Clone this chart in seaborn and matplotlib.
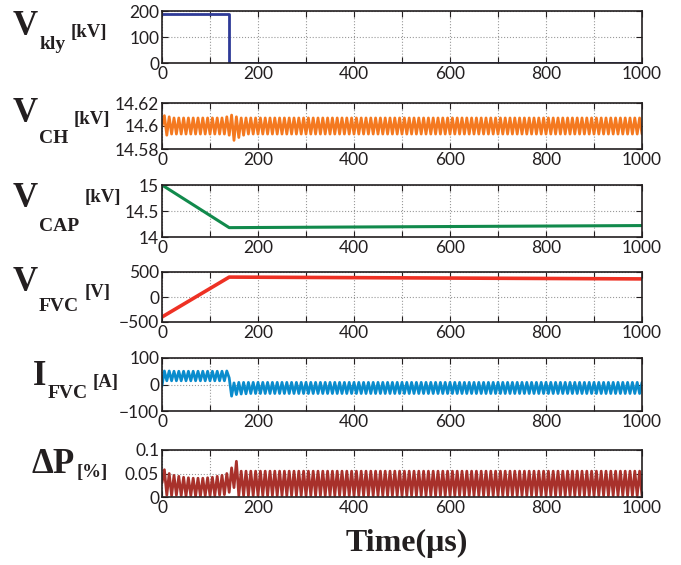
import numpy as np
import pandas as pd
import matplotlib
matplotlib.use('Agg')
import matplotlib.pyplot as plt
import seaborn as sns

# ---- data ----
# klystron voltage: step down at ~140 us
vkly_t = [0, 140, 140, 1000]
vkly = [190, 190, 0, 0]

# capacitor voltage
vcap_t = [0, 140, 1000]
vcap = [15.0, 14.18, 14.22]

# FVC voltage
vfvc_t = [0, 140, 1000]
vfvc = [-400, 398, 362]

t_ripple = np.arange(0, 1001, 5)

vch = [
    14.600, 14.609, 14.592, 14.608, 14.593, 14.607, 14.593, 14.607, 14.593, 14.607, 14.593, 14.607, 14.593, 14.607, 14.593, 14.607, 14.593, 14.607, 14.593, 14.607,
    14.593, 14.607, 14.593, 14.607, 14.593, 14.607, 14.593, 14.608, 14.592, 14.6095, 14.5875, 14.608, 14.590, 14.607, 14.592, 14.607, 14.593, 14.607, 14.593, 14.607,
    14.593, 14.607, 14.593, 14.607, 14.593, 14.607, 14.593, 14.607, 14.593, 14.607, 14.593, 14.607, 14.593, 14.607, 14.593, 14.607, 14.593, 14.607, 14.593, 14.607,
    14.593, 14.607, 14.593, 14.607, 14.593, 14.607, 14.593, 14.607, 14.593, 14.607, 14.593, 14.607, 14.593, 14.607, 14.593, 14.607, 14.593, 14.607, 14.593, 14.607,
    14.593, 14.607, 14.593, 14.607, 14.593, 14.607, 14.593, 14.607, 14.593, 14.607, 14.593, 14.607, 14.593, 14.607, 14.593, 14.607, 14.593, 14.607, 14.593, 14.607,
    14.593, 14.607, 14.593, 14.607, 14.593, 14.607, 14.593, 14.607, 14.593, 14.607, 14.593, 14.607, 14.593, 14.607, 14.593, 14.607, 14.593, 14.607, 14.593, 14.607,
    14.593, 14.607, 14.593, 14.607, 14.593, 14.607, 14.593, 14.607, 14.593, 14.607, 14.593, 14.607, 14.593, 14.607, 14.593, 14.607, 14.593, 14.607, 14.593, 14.607,
    14.593, 14.607, 14.593, 14.607, 14.593, 14.607, 14.593, 14.607, 14.593, 14.607, 14.593, 14.607, 14.593, 14.607, 14.593, 14.607, 14.593, 14.607, 14.593, 14.607,
    14.593, 14.607, 14.593, 14.607, 14.593, 14.607, 14.593, 14.607, 14.593, 14.607, 14.593, 14.607, 14.593, 14.607, 14.593, 14.607, 14.593, 14.607, 14.593, 14.607,
    14.593, 14.607, 14.593, 14.607, 14.593, 14.607, 14.593, 14.607, 14.593, 14.607, 14.593, 14.607, 14.593, 14.607, 14.593, 14.607, 14.593, 14.607, 14.593, 14.607,
    14.593,
]

ifvc = [
    -5, 51, 14, 51, 14, 50, 14, 50, 14, 50, 14, 50, 14, 50, 14, 50, 14, 50, 14, 50,
    14, 50, 14, 50, 14, 50, 14, 51, 25, -44, 6, -38, 8, -36, 8, -35, 8, -34, 8, -34,
    8, -34, 8, -34, 8, -34, 8, -34, 8, -34, 8, -34, 8, -34, 8, -34, 8, -34, 8, -34,
    8, -34, 8, -34, 8, -34, 8, -34, 8, -34, 8, -34, 8, -34, 8, -34, 8, -34, 8, -34,
    8, -34, 8, -34, 8, -34, 8, -34, 8, -34, 8, -34, 8, -34, 8, -34, 8, -34, 8, -34,
    8, -34, 8, -34, 8, -34, 8, -34, 8, -34, 8, -34, 8, -34, 8, -34, 8, -34, 8, -34,
    8, -34, 8, -34, 8, -34, 8, -34, 8, -34, 8, -34, 8, -34, 8, -34, 8, -34, 8, -34,
    8, -34, 8, -34, 8, -34, 8, -34, 8, -34, 8, -34, 8, -34, 8, -34, 8, -34, 8, -34,
    8, -34, 8, -34, 8, -34, 8, -34, 8, -34, 8, -34, 8, -34, 8, -34, 8, -34, 8, -34,
    8, -34, 8, -34, 8, -34, 8, -34, 8, -34, 8, -34, 8, -34, 8, -34, 8, -34, 8, -34,
    8,
]

dp = [
    0.030, 0.058, 0.004, 0.050, 0.003, 0.046, 0.004, 0.044, 0.003, 0.042, 0.002, 0.041, 0.003, 0.040, 0.002, 0.040, 0.002, 0.040, 0.003, 0.041,
    0.003, 0.042, 0.003, 0.044, 0.004, 0.046, 0.005, 0.050, 0.010, 0.062, 0.020, 0.076, 0.003, 0.055, 0.003, 0.055, 0.003, 0.055, 0.003, 0.055,
    0.003, 0.055, 0.003, 0.055, 0.003, 0.055, 0.003, 0.055, 0.003, 0.055, 0.003, 0.055, 0.003, 0.055, 0.003, 0.055, 0.003, 0.055, 0.003, 0.055,
    0.003, 0.055, 0.003, 0.055, 0.003, 0.055, 0.003, 0.055, 0.003, 0.055, 0.003, 0.055, 0.003, 0.055, 0.003, 0.055, 0.003, 0.055, 0.003, 0.055,
    0.003, 0.055, 0.003, 0.055, 0.003, 0.055, 0.003, 0.055, 0.003, 0.055, 0.003, 0.055, 0.003, 0.055, 0.003, 0.055, 0.003, 0.055, 0.003, 0.055,
    0.003, 0.055, 0.003, 0.055, 0.003, 0.055, 0.003, 0.055, 0.003, 0.055, 0.003, 0.055, 0.003, 0.055, 0.003, 0.055, 0.003, 0.055, 0.003, 0.055,
    0.003, 0.055, 0.003, 0.055, 0.003, 0.055, 0.003, 0.055, 0.003, 0.055, 0.003, 0.055, 0.003, 0.055, 0.003, 0.055, 0.003, 0.055, 0.003, 0.055,
    0.003, 0.055, 0.003, 0.055, 0.003, 0.055, 0.003, 0.055, 0.003, 0.055, 0.003, 0.055, 0.003, 0.055, 0.003, 0.055, 0.003, 0.055, 0.003, 0.055,
    0.003, 0.055, 0.003, 0.055, 0.003, 0.055, 0.003, 0.055, 0.003, 0.055, 0.003, 0.055, 0.003, 0.055, 0.003, 0.055, 0.003, 0.055, 0.003, 0.055,
    0.003, 0.055, 0.003, 0.055, 0.003, 0.055, 0.003, 0.055, 0.003, 0.055, 0.003, 0.055, 0.003, 0.055, 0.003, 0.055, 0.003, 0.055, 0.003, 0.055,
    0.003,
]

x_ticks = [0, 100, 200, 300, 400, 500, 600, 700, 800, 900, 1000]
x_tick_labels = ['0', '', '200', '', '400', '', '600', '', '800', '', '1000']

# per-panel y axis settings
y_lims = [(0, 200), (14.58, 14.62), (14, 15), (-500, 500), (-100, 100), (0, 0.1)]
y_ticks = [[0, 100, 200], [14.58, 14.6, 14.62], [14, 14.5, 15],
           [-500, 0, 500], [-100, 0, 100], [0, 0.05, 0.1]]
y_tick_labels = [['0', '100', '200'], ['14.58', '14.6', '14.62'], ['14', '14.5', '15'],
                 ['\u2212500', '0', '500'], ['\u2212100', '0', '100'], ['0', '0.05', '0.1']]

label_main = ['V', 'V', 'V', 'V', 'I', '\u0394P']
label_sub = ['kly', 'CH', 'CAP', 'FVC', 'FVC', '']
label_unit = ['[kV]', '[kV]', '[kV]', '[V]', '[A]', '[%]']

colors = ['#2e3a97', '#f47920', '#118a4c', '#ee3124', '#0a8ccd', '#a8312b']

series = [
    (vkly_t, vkly), (t_ripple, vch), (vcap_t, vcap),
    (vfvc_t, vfvc), (t_ripple, ifvc), (t_ripple, dp),
]

# ---- layout (pixels) ----
W, H = 681, 565
panel_px = [(11, 63), (103, 149), (185, 237), (272, 322), (358, 411), (450, 497)]
main_x = [13, 13, 13, 13, 33, 32]
main_base = [35, 122, 207, 291, 385, 473]
sub_drop = [14, 21, 24, 20, 13, 0]
unit_dy = [2, 2, -5, 6, 2, 4]
line_w = [2.0, 2.0, 2.2, 2.6, 2.0, 2.0]

ink = '#231f20'
sns.set_style('ticks')
plt.rcParams['font.family'] = ['Lato', 'DejaVu Sans']

fig = plt.figure(figsize=(W / 100, H / 100), dpi=100)

for i, (xs, ys) in enumerate(series):
    top, bot = panel_px[i]
    ax = fig.add_axes([162 / W, 1 - bot / H, 480 / W, (bot - top) / H])
    df = pd.DataFrame({'t': xs, 'v': ys})
    sns.lineplot(data=df, x='t', y='v', ax=ax, color=colors[i], lw=line_w[i],
                 estimator=None, sort=False)
    ax.set_xlim(0, 1000)
    ax.set_ylim(*y_lims[i])
    ax.set_xticks(x_ticks)
    ax.set_xticklabels(x_tick_labels)
    ax.set_yticks(y_ticks[i])
    ax.set_yticklabels(y_tick_labels[i])
    ax.set_xlabel('')
    ax.set_ylabel('')
    ax.tick_params(direction='in', top=True, right=True, length=4, width=0.8,
                   pad=2, labelsize=12.5, color=ink, labelcolor=ink)
    ax.grid(True, ls=':', color='#999999', lw=0.8)
    for s in ax.spines.values():
        s.set_linewidth(1.2)
        s.set_color(ink)

# left labels: big letter, subscript, unit
serif = 'Liberation Serif'
renderer = fig.canvas.get_renderer()
for i in range(6):
    mt = fig.text(main_x[i] / W, 1 - main_base[i] / H, label_main[i], fontsize=25,
                  fontweight='bold', family=serif, va='baseline', color=ink)
    bb = mt.get_window_extent(renderer)
    x_next = bb.x1 + 1
    if label_sub[i]:
        st = fig.text(x_next / W, 1 - (main_base[i] + sub_drop[i]) / H, label_sub[i],
                      fontsize=14, fontweight='bold', family=serif, va='baseline', color=ink)
        x_next = st.get_window_extent(renderer).x1 + 5
    fig.text(x_next / W, 1 - (main_base[i] + unit_dy[i]) / H, label_unit[i],
             fontsize=13.5, fontweight='bold', family=serif, va='baseline', color=ink)

fig.text(407 / W, 1 - 543 / H, 'Time(\u03bcs)', fontsize=23, fontweight='bold',
         family=serif, ha='center', va='center', color=ink)

fig.savefig('out.png', dpi=100)
